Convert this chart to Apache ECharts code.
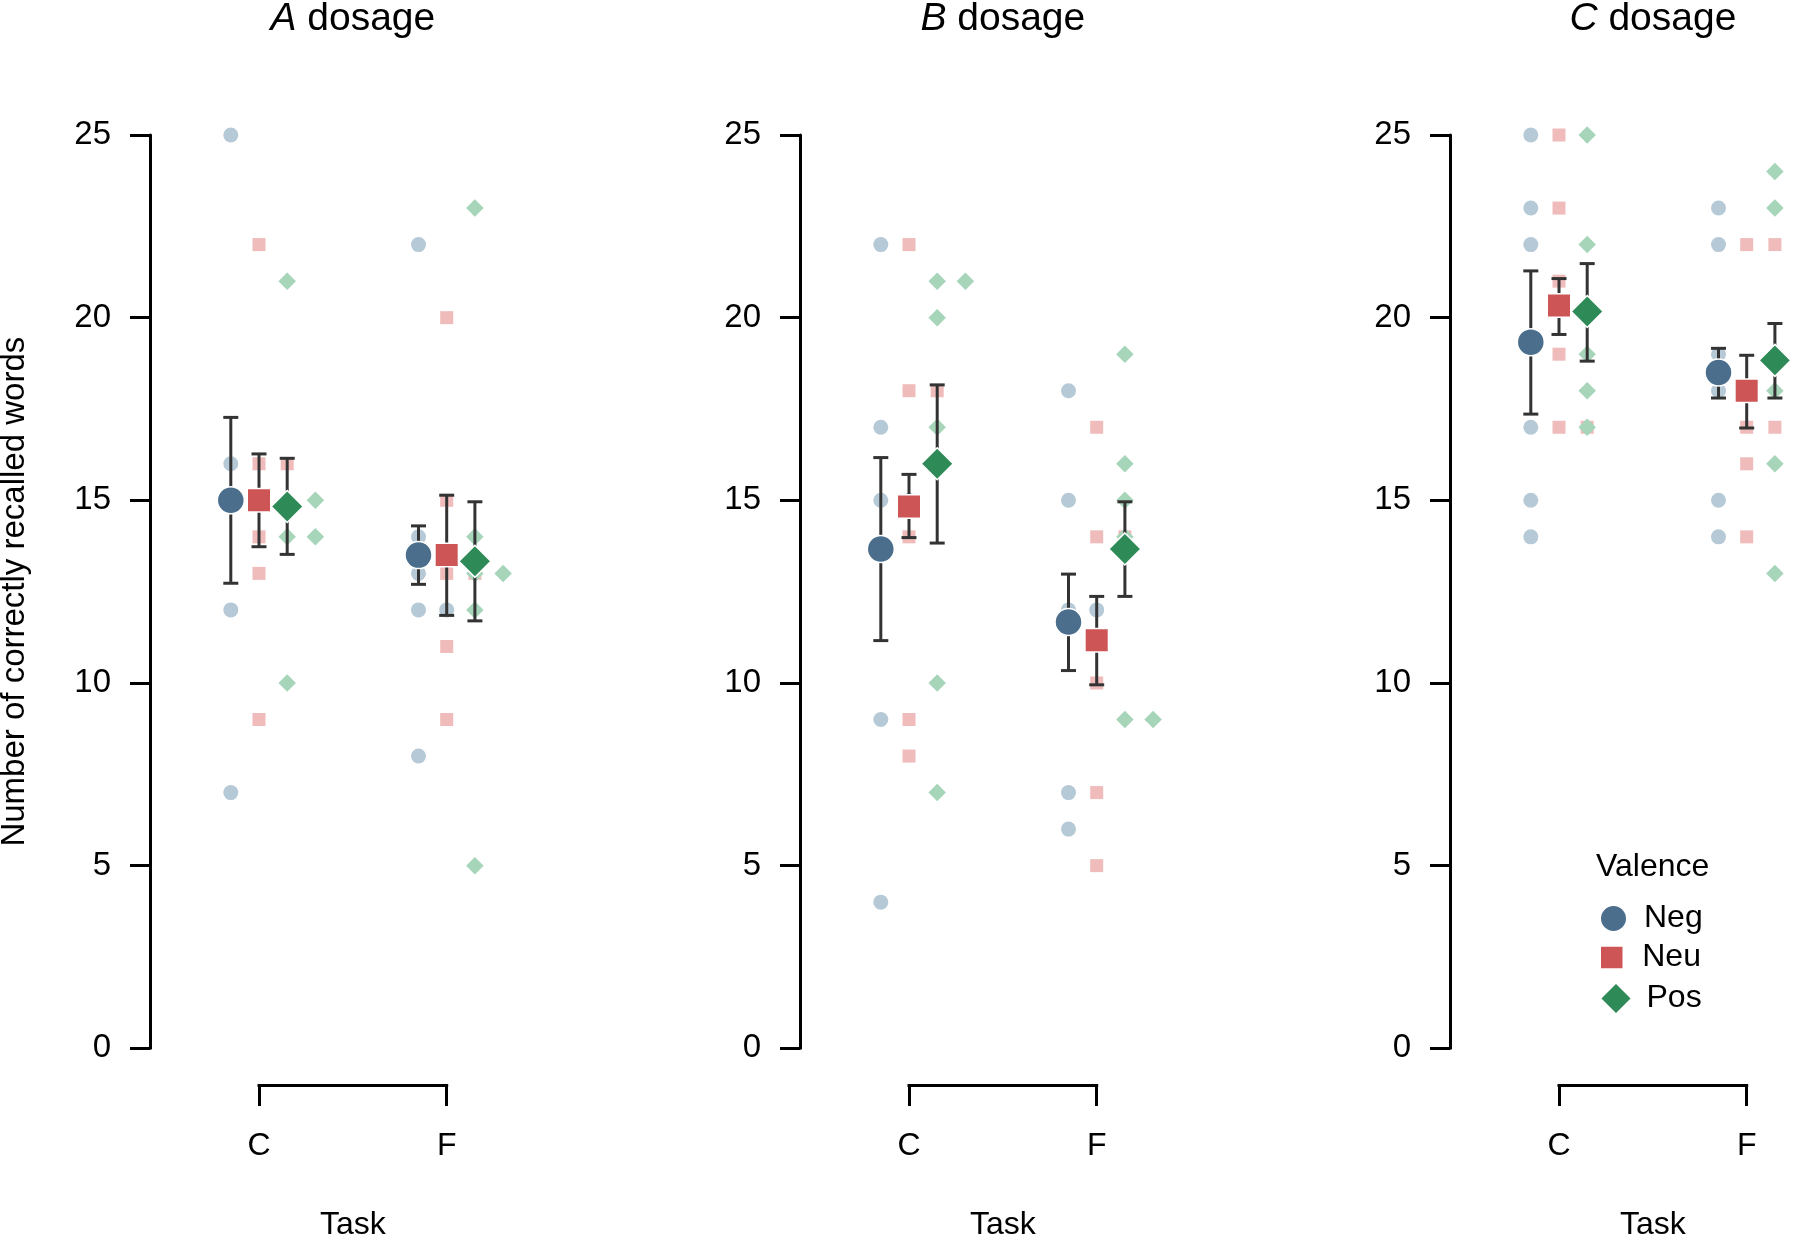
<!DOCTYPE html>
<html>
<head>
<meta charset="utf-8">
<script src="https://cdn.jsdelivr.net/npm/echarts@6/dist/echarts.min.js"></script>
<style>
html,body{margin:0;padding:0;background:#fff;}
#chart{width:1795px;height:1236px;}
</style>
</head>
<body>
<div id="chart"></div>
<script>
// ---------------- DATA ----------------
const panelNames = ['A', 'B', 'C'];
const tasks = ['C', 'F'];
const valences = ['Neg', 'Neu', 'Pos'];
const yTicks = [0, 5, 10, 15, 20, 25];

// individual scores, panel_task_valence
const A_C_Neg = [25, 16, 15, 15, 12, 7];
const A_C_Neu = [22, 16, 16, 14, 13, 9];
const A_C_Pos = [21, 15, 15, 14, 14, 10];
const A_F_Neg = [22, 14, 13, 12, 12, 8];
const A_F_Neu = [20, 15, 13, 13, 11, 9];
const A_F_Pos = [23, 14, 13, 13, 12, 5];

const B_C_Neg = [22, 17, 15, 15, 9, 4];
const B_C_Neu = [22, 18, 18, 14, 9, 8];
const B_C_Pos = [21, 21, 20, 17, 10, 7];
const B_F_Neg = [18, 15, 12, 12, 7, 6];
const B_F_Neu = [17, 14, 14, 10, 7, 5];
const B_F_Pos = [19, 16, 15, 14, 9, 9];

const C_C_Neg = [25, 23, 22, 17, 15, 14];
const C_C_Neu = [25, 23, 21, 19, 17, 17];
const C_C_Pos = [25, 22, 20, 19, 18, 17];
const C_F_Neg = [23, 22, 19, 18, 15, 14];
const C_F_Neu = [22, 22, 17, 17, 16, 14];
const C_F_Pos = [24, 23, 19, 18, 16, 13];

// means and error bars, order: C-Neg, C-Neu, C-Pos, F-Neg, F-Neu, F-Pos
const meanA = [15.00, 15.00, 14.83, 13.50, 13.50, 13.33];
const lowA  = [12.73, 13.73, 13.52, 12.70, 11.85, 11.70];
const highA = [17.27, 16.27, 16.15, 14.30, 15.14, 14.96];
const meanB = [13.67, 14.83, 16.00, 11.67, 11.17, 13.67];
const lowB  = [11.16, 13.98, 13.83, 10.34, 9.95, 12.37];
const highB = [16.17, 15.71, 18.16, 12.98, 12.37, 14.96];
const meanC = [19.33, 20.33, 20.17, 18.50, 18.00, 18.83];
const lowC  = [17.36, 19.54, 18.81, 17.80, 16.98, 17.80];
const highC = [21.28, 21.07, 21.48, 19.16, 18.97, 19.84];

// ---------------- BUILD ----------------
const raw = {
  A: [[A_C_Neg, A_C_Neu, A_C_Pos], [A_F_Neg, A_F_Neu, A_F_Pos]],
  B: [[B_C_Neg, B_C_Neu, B_C_Pos], [B_F_Neg, B_F_Neu, B_F_Pos]],
  C: [[C_C_Neg, C_C_Neu, C_C_Pos], [C_F_Neg, C_F_Neu, C_F_Pos]]
};
const summ = {
  A: [meanA, lowA, highA],
  B: [meanB, lowB, highB],
  C: [meanC, lowC, highC]
};

const FONT = '"Liberation Sans", Arial, Helvetica, sans-serif';
const darkCol = ['#4a6e8c', '#cd5555', '#2e8b57'];
const lightCol = ['#b6c9d7', '#efbbbb', '#a6d5b9'];
const rawSym = ['circle', 'rect', 'diamond'];
const rawSize = [15, 13, 17.5];
const meanSize = [27, 23.5, 32];
const diamondPath = 'path://M0.5,0L1,0.5L0.5,1L0,0.5Z';
const squarePath = 'path://M0,0L1,0L1,1L0,1Z';

const PX = 187.7;          // pixels per task unit
const SLOT = 28.2 / PX;    // dodge between valences
const panelStep = 650;
const axisX0 = 150;
const plotTop = 135, plotBottom = 1048.3;
const gridWs = [400, 400, 340];
const xMin = 1 - 109 / PX;

const grids = [], xAxes = [], yAxes = [], series = [], titles = [];

panelNames.forEach((pn, i) => {
  const left = axisX0 + panelStep * i;
  const cX = left + 109;
  const gridW = gridWs[i];
  // main grid
  grids.push({left: left, top: plotTop, width: gridW, height: plotBottom - plotTop, outerBoundsMode: 'none', containLabel: false});
  // bracket grid
  grids.push({left: cX, top: 1084, width: PX, height: 1, outerBoundsMode: 'none', containLabel: false});

  xAxes.push({gridIndex: 2 * i, type: 'value', min: xMin, max: xMin + gridW / PX, show: false});
  xAxes.push({
    gridIndex: 2 * i + 1, type: 'value', min: 1, max: 2, interval: 1, position: 'bottom',
    axisLine: {show: true, lineStyle: {color: '#000', width: 3, cap: 'square'}},
    axisTick: {show: true, length: 21, lineStyle: {color: '#000', width: 3}},
    axisLabel: {formatter: v => tasks[v - 1] || '', fontSize: 32, color: '#000', fontFamily: FONT, margin: 45},
    splitLine: {show: false},
    name: 'Task', nameLocation: 'middle', nameGap: 124,
    nameTextStyle: {fontSize: 32, color: '#000', fontFamily: FONT}
  });
  const yMain = {
    gridIndex: 2 * i, type: 'value', min: yTicks[0], max: yTicks[yTicks.length - 1], interval: 5,
    axisLine: {show: true, lineStyle: {color: '#000', width: 3}},
    axisTick: {show: true, length: 20, lineStyle: {color: '#000', width: 3}},
    axisLabel: {fontSize: 33, color: '#000', fontFamily: FONT, margin: 39},
    splitLine: {show: false}
  };
  if (i === 0) {
    yMain.name = 'Number of correctly recalled words';
    yMain.nameLocation = 'middle';
    yMain.nameRotate = 90;
    yMain.nameGap = 119;
    yMain.nameTextStyle = {fontSize: 33, color: '#000', fontFamily: FONT};
  }
  yAxes.push(yMain);
  yAxes.push({gridIndex: 2 * i + 1, type: 'value', show: false, min: 0, max: 1});

  titles.push({
    text: '{i|' + pn + '} dosage',
    left: cX + PX / 2, textAlign: 'center', top: 0, padding: 0,
    textStyle: {fontSize: 39, fontWeight: 'normal', color: '#000', fontFamily: FONT,
      rich: {i: {fontStyle: 'italic', fontSize: 39, color: '#000', fontFamily: FONT}}}
  });

  // raw points
  valences.forEach((v, vi) => {
    const pts = [];
    tasks.forEach((t, ti) => {
      const vals = raw[pn][ti][vi];
      const seen = {};
      vals.forEach(val => {
        const k = seen[val] || 0;
        seen[val] = k + 1;
        pts.push([ti + 1 + (vi - 1) * SLOT + k * SLOT, val]);
      });
    });
    series.push({
      name: v + ' raw', type: 'scatter', xAxisIndex: 2 * i, yAxisIndex: 2 * i, z: 2, clip: false,
      symbol: rawSym[vi], symbolSize: rawSize[vi], data: pts, silent: true,
      itemStyle: {color: lightCol[vi], opacity: 1},
      emphasis: {disabled: true}
    });
  });

  // error bars
  const [mean, low, high] = summ[pn];
  const ebData = [];
  tasks.forEach((t, ti) => {
    valences.forEach((v, vi) => {
      const idx = ti * 3 + vi;
      ebData.push([ti + 1 + (vi - 1) * SLOT, low[idx], high[idx]]);
    });
  });
  series.push({
    name: 'errorbar', type: 'custom', xAxisIndex: 2 * i, yAxisIndex: 2 * i, z: 3, silent: true, clip: false,
    encode: {x: 0, y: [1, 2]},
    data: ebData,
    renderItem: function (params, api) {
      const x = api.value(0);
      const pl = api.coord([x, api.value(1)]);
      const ph = api.coord([x, api.value(2)]);
      const hw = 7.5;
      const st = {stroke: '#333333', lineWidth: 3};
      return {type: 'group', children: [
        {type: 'line', shape: {x1: pl[0], y1: pl[1], x2: ph[0], y2: ph[1]}, style: st},
        {type: 'line', shape: {x1: pl[0] - hw, y1: pl[1], x2: pl[0] + hw, y2: pl[1]}, style: st},
        {type: 'line', shape: {x1: ph[0] - hw, y1: ph[1], x2: ph[0] + hw, y2: ph[1]}, style: st}
      ]};
    }
  });

  // means
  valences.forEach((v, vi) => {
    const pts = tasks.map((t, ti) => [ti + 1 + (vi - 1) * SLOT, mean[ti * 3 + vi]]);
    series.push({
      name: v, type: 'scatter', xAxisIndex: 2 * i, yAxisIndex: 2 * i, z: 4, clip: false,
      symbol: rawSym[vi], symbolSize: meanSize[vi], data: pts, silent: true,
      itemStyle: {color: darkCol[vi], borderColor: '#ffffff', borderWidth: 1.5, opacity: 1},
      emphasis: {disabled: true}
    });
  });
});

titles.push({
  text: 'Valence', left: 1596, top: 851, padding: 0,
  textStyle: {fontSize: 32, fontWeight: 'normal', color: '#000', fontFamily: FONT}
});

const legendIcons = ['circle', squarePath, diamondPath];
const legendH = [27, 23.5, 32];
const legendCY = [919.5, 958.5, 998.5];
const legends = valences.map((v, vi) => ({
  data: [{name: v, icon: legendIcons[vi]}],
  left: 1599, top: legendCY[vi] - 17, padding: 0, itemGap: 0,
  itemWidth: 51, itemHeight: legendH[vi], symbolKeepAspect: true,
  selectedMode: false,
  textStyle: {fontSize: 32, color: '#000', fontFamily: FONT}
}));

const chart = echarts.init(document.getElementById('chart'), null, {renderer: 'canvas'});
chart.setOption({
  animation: false,
  backgroundColor: '#ffffff',
  title: titles,
  legend: legends,
  grid: grids,
  xAxis: xAxes,
  yAxis: yAxes,
  series: series
});
</script>
</body>
</html>
